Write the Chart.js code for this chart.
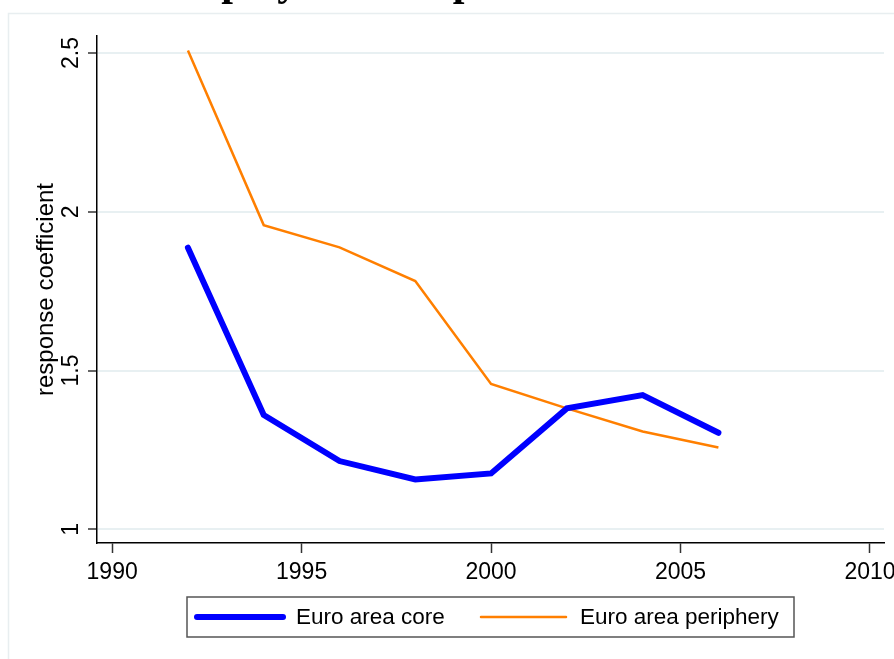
<!DOCTYPE html>
<html>
<head>
<meta charset="utf-8">
<script src="https://cdn.jsdelivr.net/npm/chart.js@4/dist/chart.umd.min.js"></script>
<style>
  html, body { margin: 0; padding: 0; background: #fff; }
  #wrap { width: 894px; height: 659px; position: relative; }
</style>
</head>
<body>
<div id="wrap"><canvas id="chart" width="894" height="659"></canvas></div>
<script>
// data
const years = [1992, 1994, 1996, 1998, 2000, 2002, 2004, 2006];
const coreValues = [1.887, 1.360, 1.215, 1.157, 1.176, 1.381, 1.423, 1.304];
const peripheryValues = [2.508, 1.958, 1.888, 1.782, 1.458, 1.381, 1.308, 1.258];
const xTicks = [1990, 1995, 2000, 2005, 2010];
const yTicks = [1, 1.5, 2, 2.5];
const seriesLabels = ["Euro area core", "Euro area periphery"];
const titleText = "Unemployment response";

const FONT = "'Liberation Sans', Arial, sans-serif";

// frame, cut-off title, rotated y labels and the boxed legend
const decorations = {
  id: "decorations",
  beforeDraw(chart) {
    const ctx = chart.ctx;
    ctx.save();
    ctx.fillStyle = "#fff";
    ctx.fillRect(0, 0, chart.width, chart.height);
    ctx.strokeStyle = "#e8eef0";
    ctx.lineWidth = 1.5;
    ctx.strokeRect(8.5, 13.5, 1000, 1000);
    ctx.fillStyle = "#000";
    ctx.font = "bold 42px 'Liberation Serif', 'Times New Roman', serif";
    ctx.textBaseline = "alphabetic";
    ctx.textAlign = "left";
    ctx.fillText(titleText, 114, -5);
    ctx.restore();
  },
  afterDraw(chart) {
    const ctx = chart.ctx;
    const y = chart.scales.y;
    ctx.save();
    ctx.fillStyle = "#000";
    ctx.font = "23px " + FONT;
    ctx.textAlign = "center";
    ctx.textBaseline = "middle";
    y.ticks.forEach((t) => {
      ctx.save();
      ctx.translate(72, y.getPixelForValue(t.value));
      ctx.rotate(-Math.PI / 2);
      ctx.fillText(String(t.value), 0, 0);
      ctx.restore();
    });

    // legend
    const ds = chart.data.datasets;
    ctx.strokeStyle = "#555";
    ctx.lineWidth = 1.5;
    ctx.strokeRect(187, 597, 607, 40);
    const items = [
      { x0: 197, x1: 283, tx: 296 },
      { x0: 481, x1: 566, tx: 580 },
    ];
    ds.forEach((d, i) => {
      const it = items[i];
      ctx.beginPath();
      ctx.strokeStyle = d.borderColor;
      ctx.lineWidth = d.borderWidth;
      ctx.lineCap = "round";
      ctx.moveTo(it.x0, 617);
      ctx.lineTo(it.x1, 617);
      ctx.stroke();
      ctx.fillStyle = "#000";
      ctx.textAlign = "left";
      ctx.textBaseline = "middle";
      ctx.font = "22.5px " + FONT;
      ctx.fillText(d.label, it.tx, 618);
    });
    ctx.restore();
  },
};

new Chart(document.getElementById("chart"), {
  type: "line",
  data: {
    datasets: [
      {
        label: seriesLabels[0],
        data: years.map((yr, i) => ({ x: yr, y: coreValues[i] })),
        borderColor: "#0000ff",
        borderWidth: 6,
        borderCapStyle: "round",
        borderJoinStyle: "miter",
        pointRadius: 0,
        tension: 0,
      },
      {
        label: seriesLabels[1],
        data: years.map((yr, i) => ({ x: yr, y: peripheryValues[i] })),
        borderColor: "#ff7f00",
        borderWidth: 2.5,
        pointRadius: 0,
        tension: 0,
      },
    ],
  },
  options: {
    responsive: false,
    animation: false,
    events: [],
    layout: { padding: { left: 0, top: 36, right: 10, bottom: 0 } },
    plugins: {
      legend: { display: false },
      title: { display: false },
      tooltip: { enabled: false },
    },
    scales: {
      x: {
        type: "linear",
        min: 1989.6,
        max: 2010.37,
        afterBuildTicks: (s) => { s.ticks = xTicks.map((v) => ({ value: v })); },
        afterFit: (s) => { s.height = 116; s.paddingLeft = 0; s.paddingRight = 0; },
        border: { display: true, color: "#000", width: 1.5 },
        grid: { display: true, drawOnChartArea: false, drawTicks: true, tickLength: 10, tickColor: "#333", tickWidth: 1.5 },
        ticks: {
          color: "#000",
          font: { family: FONT, size: 23 },
          padding: 6,
          maxRotation: 0,
          autoSkip: false,
          callback: (v) => String(v),
        },
      },
      y: {
        type: "linear",
        min: 0.957,
        max: 2.5535,
        afterBuildTicks: (s) => { s.ticks = yTicks.map((v) => ({ value: v })); },
        afterFit: (s) => { s.width = 97; s.paddingTop = 0; s.paddingBottom = 0; },
        border: { display: true, color: "#000", width: 1.5 },
        grid: { color: "#e8f0f2", lineWidth: 2, tickLength: 9, tickColor: "#333", tickWidth: 1.5 },
        ticks: { display: false },
        title: {
          display: true,
          text: "response coefficient",
          color: "#000",
          font: { family: FONT, size: 24 },
          padding: { top: 32 },
        },
      },
    },
  },
  plugins: [decorations],
});
</script>
</body>
</html>
